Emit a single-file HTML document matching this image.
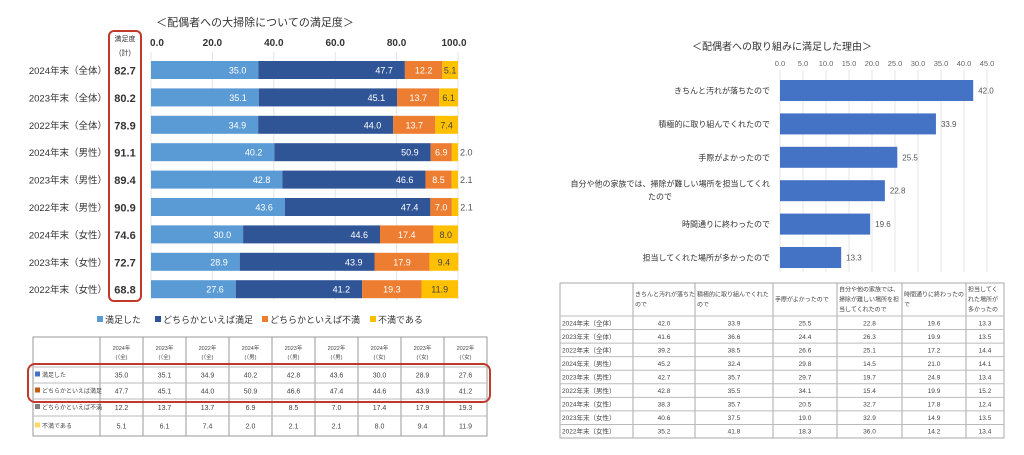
<!DOCTYPE html>
<html><head><meta charset="utf-8"><style>
body{margin:0;background:#fff;width:1024px;height:455px;overflow:hidden;font-family:"Liberation Sans","Noto Sans CJK JP",sans-serif}
svg{position:absolute;left:0;top:0}
</style></head><body>
<svg id="c" width="1024" height="455" viewBox="0 0 1024 455"></svg>
<script>
const rowLabels=["2024年末（全体）","2023年末（全体）","2022年末（全体）","2024年末（男性）","2023年末（男性）","2022年末（男性）","2024年末（女性）","2023年末（女性）","2022年末（女性）"];
const totals=["82.7","80.2","78.9","91.1","89.4","90.9","74.6","72.7","68.8"];
const s1=[35.0,35.1,34.9,40.2,42.8,43.6,30.0,28.9,27.6];
const s2=[47.7,45.1,44.0,50.9,46.6,47.4,44.6,43.9,41.2];
const s3=[12.2,13.7,13.7,6.9,8.5,7.0,17.4,17.9,19.3];
const s4=[5.1,6.1,7.4,2.0,2.1,2.1,8.0,9.4,11.9];
const seriesNames=["満足した","どちらかといえば満足","どちらかといえば不満","不満である"];
const leftTicks=[0,20,40,60,80,100];
const reasons=["きちんと汚れが落ちたので","積極的に取り組んでくれたので","手際がよかったので","自分や他の家族では、掃除が難しい場所を担当してくれたので","時間通りに終わったので","担当してくれた場所が多かったので"];
const reasonVals=[42.0,33.9,25.5,22.8,19.6,13.3];
const rightTicks=[0,5,10,15,20,25,30,35,40,45];
const tblR=[[42.0,33.9,25.5,22.8,19.6,13.3],[41.6,36.6,24.4,26.3,19.9,13.5],[39.2,38.5,26.6,25.1,17.2,14.4],[45.2,32.4,29.8,14.5,21.0,14.1],[42.7,35.7,29.7,19.7,24.9,13.4],[42.8,35.5,34.1,15.4,19.9,15.2],[38.3,35.7,20.5,32.7,17.8,12.4],[40.6,37.5,19.0,32.9,14.9,13.5],[35.2,41.8,18.3,36.0,14.2,13.4]];

const NS="http://www.w3.org/2000/svg",svg=document.getElementById('c');
function el(t,a,txt){const e=document.createElementNS(NS,t);for(const k in a)e.setAttribute(k,a[k]);if(txt!==undefined)e.textContent=txt;svg.appendChild(e);return e;}
const colors=["#5b9bd5","#2f5597","#ed7d31","#ffc000"];
const X=v=>151+v*3.07, Y=i=>70+i*27.4;
// left title
let e=el('text',{x:255,y:26,'font-size':11,'text-anchor':'middle',fill:'#333'},'＜配偶者への大掃除についての満足度＞');

leftTicks.forEach(t=>{
 e=el('line',{x1:X(t),x2:X(t),y1:52,y2:300,stroke:'#e4e4e4'});
 e=el('text',{x:X(t)+(t===0?6:t===100?-4:0),y:46,'font-size':10,'font-weight':'bold','text-anchor':'middle',fill:'#333'},t.toFixed(1));
 
});
e=el('text',{x:125,y:41,'font-size':7,'text-anchor':'middle',fill:'#333'},'満足度');
e=el('text',{x:125,y:55,'font-size':7,'text-anchor':'middle',fill:'#333'},'(計)');
e=el('rect',{x:109,y:31,width:32,height:270,rx:5,fill:'none',stroke:'#c0392b','stroke-width':2});
const series=[s1,s2,s3,s4];
rowLabels.forEach((lab,i)=>{
 const y=Y(i);
 e=el('text',{x:107,y:y+4,'font-size':9.5,'text-anchor':'end',fill:'#333'},lab);
 e=el('text',{x:125,y:y+4.5,'font-size':11,'font-weight':'bold','text-anchor':'middle',fill:'#333'},totals[i]);
 let acc=0;
 series.forEach((s,k)=>{
  const x0=X(acc),x1=X(acc+s[i]);
  e=el('rect',{x:x0,y:y-9,width:x1-x0,height:18,fill:colors[k]});
  let tx,anc,fill='#fff';
  if(k===3){ if(s[i]<3){tx=x1+2;anc='start';fill='#555';}else{tx=(x0+x1)/2;anc='middle';fill='#444';} }
  else {tx=x1-5;anc='end'; if(k===0&&false){}}
  if(k===0||k===1){tx=x1-12;anc='end';}
  if(k===2){tx=(x0+x1)/2;anc='middle';}
  e=el('text',{x:tx,y:y+3.5,'font-size':9,'text-anchor':anc,fill:fill},s[i].toFixed(1));
  acc+=s[i];
 });
});
// legend
const lx=[97,155,262,370];
seriesNames.forEach((n,k)=>{
 e=el('rect',{x:lx[k],y:316,width:6,height:6,fill:colors[k]});
 e=el('text',{x:lx[k]+8,y:323,'font-size':9,fill:'#333'},n);
});
// left table
const tl=33,tlab=100,tr=487,cw=(tr-tlab)/9,rys=[337,367,383,399,416,436];
e=el('rect',{x:tl,y:337,width:tr-tl,height:99,fill:'#fff',stroke:'#999'});
for(let j=0;j<=9;j++){e=el('line',{x1:tlab+j*cw,x2:tlab+j*cw,y1:337,y2:436,stroke:'#999'});}
rys.slice(1,5).forEach(y=>{e=el('line',{x1:tl,x2:tr,y1:y,y2:y,stroke:'#bbb'});});
rowLabels.forEach((lab,j)=>{
 const cx=tlab+(j+0.5)*cw;
 e=el('text',{x:cx,y:350,'font-size':5.5,'text-anchor':'middle',fill:'#444'},lab.slice(0,5));
 e=el('text',{x:cx,y:359,'font-size':5.5,'text-anchor':'middle',fill:'#444'},'('+lab.slice(6,8)+')');
});
const tcol=["#4472c4","#c55a11","#7f7f7f","#ffd966"];
seriesNames.forEach((n,k)=>{
 const y=(rys[k+1]+rys[k+2])/2;
 e=el('rect',{x:35,y:y-3.5,width:5,height:5,fill:tcol[k]});
 e=el('text',{x:42,y:y+2,'font-size':6,fill:'#444'},n);
 series[k].forEach((v,j)=>{e=el('text',{x:tlab+(j+0.5)*cw,y:y+2.5,'font-size':7,'text-anchor':'middle',fill:'#444'},v.toFixed(1));});
});
e=el('rect',{x:28,y:364,width:462,height:38,rx:7,fill:'none',stroke:'#c0392b','stroke-width':2});

// right chart
const RX=v=>780+v*4.6, RY=i=>90.5+i*33.4;
e=el('text',{x:782,y:50,'font-size':10,'text-anchor':'middle',fill:'#333'},'＜配偶者への取り組みに満足した理由＞');
rightTicks.forEach(t=>{
 e=el('line',{x1:RX(t),x2:RX(t),y1:70,y2:272,stroke:'#e6e6e6'});
 e=el('text',{x:RX(t),y:66,'font-size':7.5,'text-anchor':'middle',fill:'#666'},t.toFixed(1));
});
reasons.forEach((r,i)=>{
 const y=RY(i);
 e=el('rect',{x:RX(0),y:y-10.5,width:RX(reasonVals[i])-RX(0),height:21,fill:'#4472c4'});
 e=el('text',{x:RX(reasonVals[i])+5,y:y+3,'font-size':8,fill:'#555'},reasonVals[i].toFixed(1));
 if(i===3){
  e=el('text',{x:770,y:y-4,'font-size':8,'text-anchor':'end',fill:'#333'},'自分や他の家族では、掃除が難しい場所を担当してくれ');
  e=el('text',{x:672,y:y+9,'font-size':8,'text-anchor':'end',fill:'#333'},'たので');
 } else {
  e=el('text',{x:770,y:y+3,'font-size':8,'text-anchor':'end',fill:'#333'},r);
 }
});
// right table
const cx2=[560,633,695,773,837,902,966,1004],ty0=283,th=316,rh=(438-316)/9;
e=el('rect',{x:560,y:283,width:444,height:155,fill:'#fff',stroke:'#aaa'});
cx2.slice(1,7).forEach(x=>{e=el('line',{x1:x,x2:x,y1:283,y2:438,stroke:'#aaa'});});
for(let i=0;i<9;i++){e=el('line',{x1:560,x2:1004,y1:th+i*rh,y2:th+i*rh,stroke:'#bbb'});}
const hdr=[["きちんと汚れが落ちた","ので"],["積極的に取り組んでくれた","ので"],["手際がよかったので"],["自分や他の家族では、","掃除が難しい場所を担","当してくれたので"],["時間通りに終わったの","で"],["担当してく","れた場所が","多かったの"]];
hdr.forEach((ls,j)=>{const n=ls.length;ls.forEach((l,m)=>{e=el('text',{x:cx2[j+1]+2,y:299.5-(n-1)*5+m*10+2,'font-size':6,fill:'#444'},l);});});
tblR.forEach((row,i)=>{
 const y=th+(i+0.5)*rh+2.5;
 e=el('text',{x:562,y:y,'font-size':6.5,fill:'#444'},rowLabels[i]);
 row.forEach((v,j)=>{e=el('text',{x:(cx2[j+1]+cx2[j+2])/2,y:y,'font-size':6.5,'text-anchor':'middle',fill:'#444'},v.toFixed(1));});
});
</script>
</body></html>
